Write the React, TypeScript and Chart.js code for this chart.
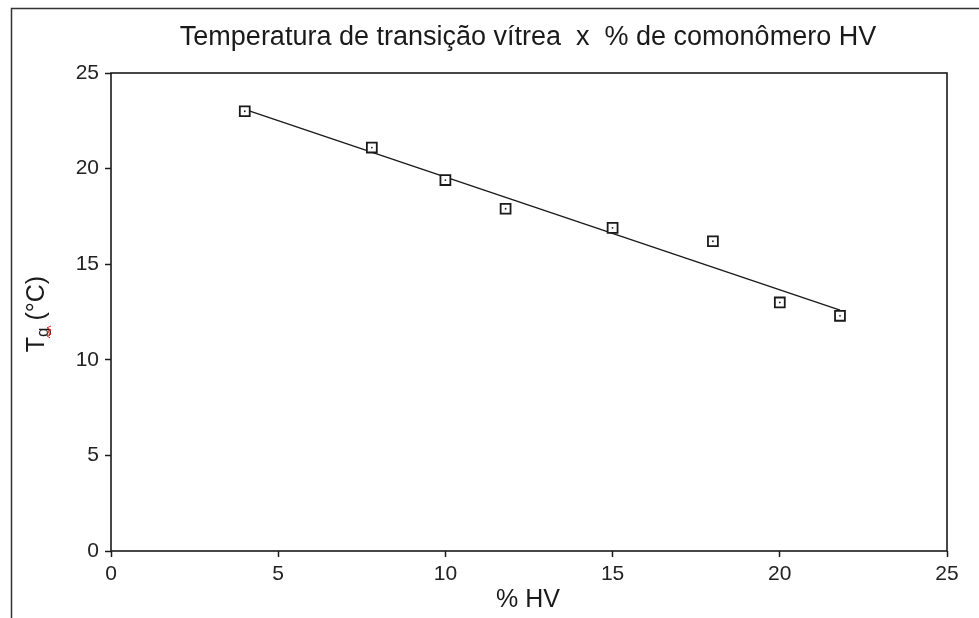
import React, { useEffect, useRef } from 'react';
import { Chart, registerables } from 'chart.js';

Chart.register(...registerables);

const titleText = 'Temperatura de transição vítrea  x  % de comonômero HV';
const xAxisLabel = '% HV';
const yAxisMain = 'T';
const yAxisSub = 'g';
const yAxisRest = ' (°C)';

const hvPercent = [4, 7.8, 10, 11.8, 15, 18, 20, 21.8];
const tgValues = [23.0, 21.1, 19.4, 17.9, 16.9, 16.2, 13.0, 12.3];

const trendX = [4, 21.8];
const trendY = [23.1, 12.6];

const xTickValues = [0, 5, 10, 15, 20, 25];
const yTickValues = [0, 5, 10, 15, 20, 25];

const FONT = '"Liberation Sans", Arial, sans-serif';
const INK = '#1a1a1a';

const overlayPlugin = {
  id: 'overlay',
  afterDraw(chart: any) {
    const ctx = chart.ctx as CanvasRenderingContext2D;
    const a = chart.chartArea;
    ctx.save();
    // outer border
    ctx.strokeStyle = '#333';
    ctx.lineWidth = 1.5;
    ctx.strokeRect(11.5, 8.5, 2000, 2000);
    // plot frame
    ctx.strokeStyle = INK;
    ctx.lineWidth = 1.6;
    ctx.strokeRect(a.left, a.top, a.right - a.left, a.bottom - a.top);
    // title
    ctx.fillStyle = INK;
    ctx.font = `27px ${FONT}`;
    ctx.textAlign = 'center';
    ctx.textBaseline = 'alphabetic';
    ctx.fillText(titleText, 528, 45);
    // x axis title
    ctx.font = `25px ${FONT}`;
    ctx.fillText(xAxisLabel, (a.left + a.right) / 2 - 1, 607);
    // y axis title
    ctx.translate(44, 314);
    ctx.rotate(-Math.PI / 2);
    ctx.textAlign = 'left';
    const mainFont = `25px ${FONT}`;
    const subFont = `17px ${FONT}`;
    ctx.font = mainFont;
    const wT = ctx.measureText(yAxisMain).width;
    const wR = ctx.measureText(yAxisRest).width;
    ctx.font = subFont;
    const wG = ctx.measureText(yAxisSub).width;
    let x = -(wT + wG + wR) / 2;
    ctx.font = mainFont;
    ctx.fillText(yAxisMain, x, 0);
    x += wT;
    ctx.font = subFont;
    ctx.fillText(yAxisSub, x, 4);
    // spell-check squiggle
    ctx.strokeStyle = '#e02020';
    ctx.lineWidth = 1;
    ctx.beginPath();
    let sx = x - 1;
    let up = true;
    ctx.moveTo(sx, 6);
    while (sx < x + wG + 1) {
      sx += 2;
      ctx.lineTo(sx, up ? 3 : 7);
      up = !up;
    }
    ctx.stroke();
    x += wG;
    ctx.font = mainFont;
    ctx.fillText(yAxisRest, x, 0);
    ctx.restore();
  },
};

export default function App() {
  const ref = useRef<HTMLCanvasElement | null>(null);

  useEffect(() => {
    if (!ref.current) return;
    const points = hvPercent.map((x, i) => ({ x, y: tgValues[i] }));
    const trend = trendX.map((x, i) => ({ x, y: trendY[i] }));
    const chart = new Chart(ref.current, {
      type: 'scatter',
      data: {
        datasets: [
          {
            data: points,
            pointStyle: 'circle',
            pointRadius: 0.9,
            backgroundColor: INK,
            borderWidth: 0,
            order: 1,
          } as any,
          {
            data: points,
            pointStyle: 'rect',
            pointRadius: 7,
            borderColor: INK,
            borderWidth: 1.8,
            backgroundColor: '#ffffff',
            order: 2,
          } as any,
          {
            data: trend,
            showLine: true,
            borderColor: INK,
            borderWidth: 1.4,
            pointRadius: 0,
            order: 3,
          } as any,
        ],
      },
      options: {
        responsive: false,
        animation: false,
        devicePixelRatio: 1,
        events: [],
        layout: { padding: { left: 61, top: 73, right: 32, bottom: 27 } },
        plugins: {
          legend: { display: false },
          tooltip: { enabled: false },
          title: { display: false },
        },
        scales: {
          x: {
            type: 'linear',
            min: 0,
            max: 25,
            afterFit: (s: any) => {
              s.height = 40;
            },
            afterBuildTicks: (s: any) => {
              s.ticks = xTickValues.map((v) => ({ value: v }));
            },
            border: { display: false },
            grid: {
              drawOnChartArea: false,
              drawTicks: true,
              tickLength: 6,
              tickColor: INK,
              tickWidth: 1.5,
            },
            ticks: {
              padding: 5,
              color: '#222',
              font: { family: FONT, size: 21 },
            },
          },
          y: {
            type: 'linear',
            min: 0,
            max: 25,
            afterFit: (s: any) => {
              s.width = 50;
            },
            afterBuildTicks: (s: any) => {
              s.ticks = yTickValues.map((v) => ({ value: v }));
            },
            border: { display: false },
            grid: {
              drawOnChartArea: false,
              drawTicks: true,
              tickLength: 6,
              tickColor: INK,
              tickWidth: 1.5,
            },
            ticks: {
              padding: 6,
              color: '#222',
              font: { family: FONT, size: 21 },
            },
          },
        },
      },
      plugins: [overlayPlugin],
    });
    return () => chart.destroy();
  }, []);

  return (
    <div style={{ position: 'fixed', left: 0, top: 0, width: 979, height: 618, background: '#fff' }}>
      <canvas ref={ref} width={979} height={618} style={{ display: 'block' }} />
    </div>
  );
}
